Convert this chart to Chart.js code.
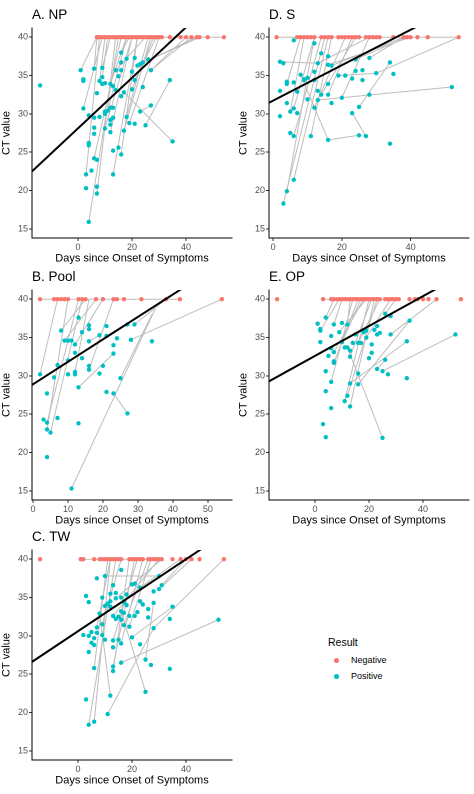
<!DOCTYPE html>
<html><head><meta charset="utf-8">
<script src="https://cdn.jsdelivr.net/npm/chart.js@4.4.0/dist/chart.umd.min.js"></script>
<style>
body{margin:0;background:#fff;width:474px;height:794px;position:relative;overflow:hidden;font-family:"Liberation Sans",Arial,sans-serif}
canvas{position:absolute}
#legend{position:absolute;left:328px;top:636px;font-size:10.5px;color:#000}
#legend .it{font-size:9px;height:16px;line-height:16px;margin-left:2px}
#legend .dot{display:inline-block;width:5px;height:5px;border-radius:50%;margin:0 12px 0 4px;vertical-align:middle}
</style></head><body>
<canvas id="cA" style="left:0;top:0"></canvas>
<canvas id="cD" style="left:237px;top:0"></canvas>
<canvas id="cB" style="left:0;top:262px"></canvas>
<canvas id="cE" style="left:237px;top:262px"></canvas>
<canvas id="cC" style="left:0;top:522px"></canvas>
<div id="legend"><div style="margin-bottom:4px">Result</div>
<div class="it"><span class="dot" style="background:#F8766D"></span>Negative</div>
<div class="it"><span class="dot" style="background:#00BFC4"></span>Positive</div></div>
<script>
// ---- Panel A. NP ----
const negA=[7,7.5,8,9,10,11,12,13,14,15,16,17,18,19,20,21,22,23,24,25,26,27,28,29,30,31,34,38,40,42,44,45,48,54];
const posA=[[-14,33.7],[1,35.7],[2,34.3],[2,34.5],[2,30.7],[3,22.1],[3,20.3],[4,29.8],[4,26.2],[4,25.9],[4,15.9],[5,22.6],[6,35.9],[6,29.5],[6,28.2],[6,27.4],[6,24.2],[7,32.7],[7,24],[7,20.5],[7,19.6],[8,34.3],[8,29.6],[9,36],[9,33.9],[9,34.8],[10,34],[10,30.3],[10,30],[10,28.1],[11,30.4],[12,30.8],[12,29.2],[12,28.6],[12,27.6],[12,33.9],[13,33.6],[13,30.8],[13,29.5],[13,25.2],[13,22.1],[14,35.7],[14,33.1],[15,34.9],[15,25.6],[16,38],[16,36.7],[16,35.7],[16,32.3],[16,24.7],[17,32.8],[17,27.8],[18,37.2],[18,29.6],[19,28.8],[20,35.5],[20,33.2],[21,37.3],[21,34.4],[21,28.7],[22,36.3],[23,36.5],[23,30.3],[24,36.7],[24,33.5],[25,28.5],[26,37.1],[27,35.7],[27,31.1],[34,34.4],[35,26.4]];
const linkA=[[7,40,54,40],[2,30.7,9,40],[3,22.1,8,40],[4,15.9,15,40],[6,24.2,16,40],[7,19.6,14,40],[9,34.8,11,40],[10,28.1,20,40],[12,27.6,20,40],[13,22.1,22,40],[16,24.7,22,40],[14,35.7,25,40],[17,27.8,27,40],[20,33.2,28,40],[21,34.4,29,40],[22,36.3,44,40],[23,36.5,45,40],[24,36.7,45,40],[27,35.7,42,40],[25,28.5,34,34.4],[27,31.1,23,30.3],[35,26.4,17,32.8],[18,29.6,26,40],[6,35.9,7,40],[9,36,12,40],[12,33.9,18,40],[16,38,19,40],[11,30.4,18,40],[19,28.8,30,40],[27,35.7,40,40],[8,34.3,10,40],[1,35.7,7,40]];
const fitA=[28.1,0.33];
// ---- Panel D. S ----
const negD=[1,7,8,9,10,11,12,14,15,16,17,19,20,21,22,23,24,25,27,28,29,30,31,35,38,39,40,42,45,54];
const posD=[[2,36.8],[2,33],[2,29.7],[3,36.6],[3,18.3],[4,34.2],[4,33.9],[4,31.4],[4,19.9],[5,30.3],[5,27.5],[6,39.6],[6,34.1],[6,30.7],[6,27.1],[6,21.4],[7,32.9],[7,30.1],[8,35.1],[9,34.5],[9,34.4],[10,34.7],[10,31.9],[11,27.1],[12,39.2],[12,35.5],[12,34.4],[12,30.8],[13,36.6],[13,33],[13,31.8],[14,37.9],[14,32.5],[16,37.5],[16,36.4],[16,33.9],[16,32.5],[16,26.6],[17,36.3],[17,31.4],[19,35],[20,32.1],[21,35],[23,34.6],[23,30.1],[24,37.1],[24,35.6],[25,30.9],[25,27.2],[26,35.7],[26,34.4],[27,27.1],[28,37.3],[28,32.5],[30,35.3],[34,36.7],[34,26.1],[35,35.2],[52,33.5]];
const linkD=[[1,40,54,40],[3,18.3,15,40],[4,19.9,12,40],[6,21.4,16,40],[6,30.7,12,40],[5,30.3,9,40],[4,33.9,8,40],[6,27.1,14,40],[11,27.1,17,40],[12,30.8,21,40],[16,26.6,25,27.2],[16,26.6,8,35.1],[23,30.1,27,27.1],[13,31.8,52,33.5],[16,32.5,23,40],[25,30.9,34,36.7],[17,36.3,38,40],[24,37.1,39,40],[28,37.3,38,40],[30,35.3,54,40],[19,35,30,35.3],[14,32.5,24,40],[20,32.1,28,40],[16,36.4,40,40],[13,36.6,28,40],[2,36.8,13,36.6]];
const fitD=[31.73,0.231];
// ---- Panel B. Pool ----
const negB=[2,6,7,8,9,10,13,14,15,18,20,23,24,26,31,38,42,54];
const posB=[[2,30.2],[3,24.3],[4,27.7],[4,23.9],[4,23],[4,19.4],[5,22.6],[6,29.8],[7,31.4],[7,24.5],[8,35.9],[9,34.6],[10,34.6],[10,30.2],[10,32],[11,34.6],[11,15.3],[12,34.1],[12,33],[12,30.5],[12,30.2],[13,37.6],[13,28.5],[13,23.8],[14,35.7],[14,32.3],[16,36.6],[16,36.1],[16,34.5],[16,31.3],[16,30.8],[19,35.3],[19,30.3],[20,31.3],[21,36.5],[21,35.2],[21,27.9],[23,34],[23,32.9],[23,27.7],[24,34.9],[25,29.7],[27,36.7],[27,25.1],[28,34.7],[29,36.7],[34,34.5]];
const linkB=[[2,40,42,40],[2,30.2,7,40],[4,23.9,13,40],[5,22.6,14,40],[4,23,10,40],[8,35.9,15,40],[12,34.1,20,40],[16,30.8,23,40],[16,34.5,19,35.3],[13,28.5,23,32.9],[11,15.3,35,38.8],[25,29.7,34,38],[23,27.7,27,25.1],[28,34.7,54,40],[21,35.2,38,40],[29,36.7,38,40],[12,30.5,16,40],[9,34.6,18,40]];
const fitB=[28.9,0.293];
// ---- Panel E. OP ----
const negE=[-14,3,6,7,8,9,10,11,12,13,14,15,16,17,18,19,20,21,22,23,24,26,27,28,29,30,31,35,37,38,40,42,45,54];
const posE=[[1,36.8],[2,36.1],[2,35.9],[2,34.4],[3,23.7],[4,37.6],[4,30.6],[4,28],[4,22],[5,32.6],[6,35.2],[6,33.6],[6,29.2],[6,25.8],[7,36.7],[7,33.1],[7,31.9],[7,31.7],[9,35.7],[10,36.9],[10,34.4],[11,33.7],[11,26.7],[12,36.7],[12,33.7],[12,27.4],[13,33.3],[13,32.5],[13,29],[13,26],[14,34.3],[15,35.4],[16,34.3],[16,30.3],[16,28.9],[17,34.3],[18,35.7],[19,35.9],[19,35],[20,32.3],[21,34.1],[21,33],[22,36],[23,35.4],[23,30.9],[23,36.5],[24,35.6],[25,30.6],[25,21.9],[26,32.1],[26,38.1],[27,30.2],[28,37.8],[28,35.4],[34,34.5],[34,29.7],[35,37.2],[52,35.4]];
const linkE=[[3,40,31,40],[2,35.9,9,40],[4,37.6,7,40],[7,31.7,16,40],[6,29.2,14,40],[11,26.7,20,40],[13,26,22,40],[12,27.4,23,40],[13,29,34,34.5],[16,28.9,35,37.2],[25,21.9,12,33.7],[23,30.9,26,32.1],[25,30.6,52,35.4],[28,35.4,45,40],[26,38.1,30,40],[19,35,28,40],[16,34.3,24,40],[7,36.7,10,40],[10,34.4,17,40],[9,35.7,19,40],[12,36.7,13,40],[7,33.1,18,40],[13,32.5,21,40]];
const fitE=[32.6,0.195];
// ---- Panel C. TW ----
const negC=[-14,1,1.5,2,6,8,9,10,11,12,13,14,15,16,19,20,21,22,23,24,26,27,28,29,30,31,35,38,40,42,45,54];
const posC=[[2,30.1],[3,35.2],[3,21.7],[4,34.4],[4,30],[4,27.9],[4,18.4],[5,30.5],[5,29.1],[6,29.7],[6,28.8],[6,25.8],[6,18.8],[7,37.5],[7,31.1],[7,30.4],[8,32.9],[9,35],[9,31.5],[9,30.1],[10,37.8],[10,33.9],[10,29.5],[11,34.2],[11,19.8],[12,35.5],[12,34.5],[12,33.8],[12,22.2],[13,36.6],[13,32.6],[13,29.4],[13,28.5],[13,26],[13,25.4],[14,35.6],[14,34.9],[14,32.2],[15,32.5],[15,29.5],[16,38.6],[16,35],[16,33.2],[16,32.1],[16,29],[16,26.5],[17,34.4],[17,33],[17,31.4],[18,35.4],[18,34],[19,32.6],[19,31.2],[20,36.7],[20,29.8],[21,36.8],[21,32.6],[22,33.1],[23,36.3],[23,34.5],[23,28.9],[24,34.1],[25,26.9],[25,22.7],[26,33.5],[26,32.4],[27,26.2],[28,35.8],[28,34.3],[28,31],[30,36.1],[30,37.8],[31,36.6],[34,32.2],[34,25.7],[35,33.8],[52,32.1]];
const linkC=[[1,40,31,40],[10,37.8,30,37.8],[4,18.4,14,40],[6,18.8,12,40],[11,19.8,28,31],[12,22.2,8,32.9],[16,26.5,52,32.1],[25,22.7,16,33.2],[13,26,21,40],[13,25.4,19,40],[6,25.8,11,40],[28,31,54,40],[16,29,24,40],[30,36.1,42,40],[31,36.6,40,40],[23,36.3,38,40],[7,31.1,12,40],[13,29.4,22,40],[17,31.4,26,40],[20,29.8,35,33.8],[25,26.9,28,34.3],[13,32.6,30,40],[14,34.9,31,40],[9,31.5,16,40],[19,31.2,27,40]];
const fitC=[30.6,0.235];

const FONT='"Liberation Sans", Arial, sans-serif';
function panel(id,title,neg,pos,links,fit,xmin,xmax,ticks){
  const cv=document.getElementById(id);
  const ds=links.map(l=>({data:[{x:l[0],y:l[1]},{x:l[2],y:l[3]}],showLine:true,borderColor:'#BDBDBD',borderWidth:1,pointRadius:0,order:3}));
  ds.push(
    {data:neg.map(x=>({x:x,y:40})),pointRadius:2.2,backgroundColor:'#F8766D',borderWidth:0,order:2},
    {data:pos.map(p=>({x:p[0],y:p[1]})),pointRadius:2.2,backgroundColor:'#00BFC4',borderWidth:0,order:1},
    {data:[{x:xmin,y:fit[0]+fit[1]*xmin},{x:xmax,y:fit[0]+fit[1]*xmax}],showLine:true,borderColor:'#000',borderWidth:2,pointRadius:0,order:0});
  const titlePlugin={id:'t',afterDraw(c){const g=c.ctx;g.save();g.font='13.5px '+FONT;g.fillStyle='#000';g.textBaseline='alphabetic';g.fillText(title,c.chartArea.left,19);g.restore();}};
  new Chart(cv,{type:'scatter',
    data:{datasets:ds},
    options:{responsive:false,animation:false,devicePixelRatio:2,
      layout:{padding:{top:28,right:5,left:0,bottom:0}},
      plugins:{legend:{display:false},tooltip:{enabled:false}},
      scales:{
        x:{type:'linear',min:xmin,max:xmax,afterFit(s){s.height=27;},
          afterBuildTicks(s){s.ticks=ticks.map(v=>({value:v}));},
          grid:{drawOnChartArea:false,drawTicks:true,tickLength:3,color:'#333'},
          border:{color:'#000',width:1},
          ticks:{font:{size:9,family:FONT},color:'#4D4D4D',padding:1,maxRotation:0},
          title:{display:true,text:'Days since Onset of Symptoms',font:{size:11,family:FONT},color:'#000',padding:{top:1,bottom:0}}},
        y:{type:'linear',min:13.8,max:41.2,afterFit(s){s.width=32;},
          afterBuildTicks(s){s.ticks=[15,20,25,30,35,40].map(v=>({value:v}));},
          grid:{drawOnChartArea:false,drawTicks:true,tickLength:3,color:'#333'},
          border:{color:'#000',width:1},
          ticks:{font:{size:9,family:FONT},color:'#4D4D4D',padding:1},
          title:{display:true,text:'CT value',font:{size:11,family:FONT},color:'#000',padding:{top:0,bottom:1}}}
      }},
    plugins:[titlePlugin]});
}
document.querySelectorAll('canvas').forEach(c=>{c.width=237;c.height=265;c.style.width='237px';c.style.height='265px';});
panel('cA','A. NP',negA,posA,linkA,fitA,-17,57,[0,20,40]);
panel('cD','D. S',negD,posD,linkD,fitD,-1.2,57,[0,20,40]);
panel('cB','B. Pool',negB,posB,linkB,fitB,-0.3,56.9,[0,10,20,30,40,50]);
panel('cE','E. OP',negE,posE,linkE,fitE,-17,57,[0,20,40]);
panel('cC','C. TW',negC,posC,linkC,fitC,-17,57,[0,20,40]);
</script></body></html>
